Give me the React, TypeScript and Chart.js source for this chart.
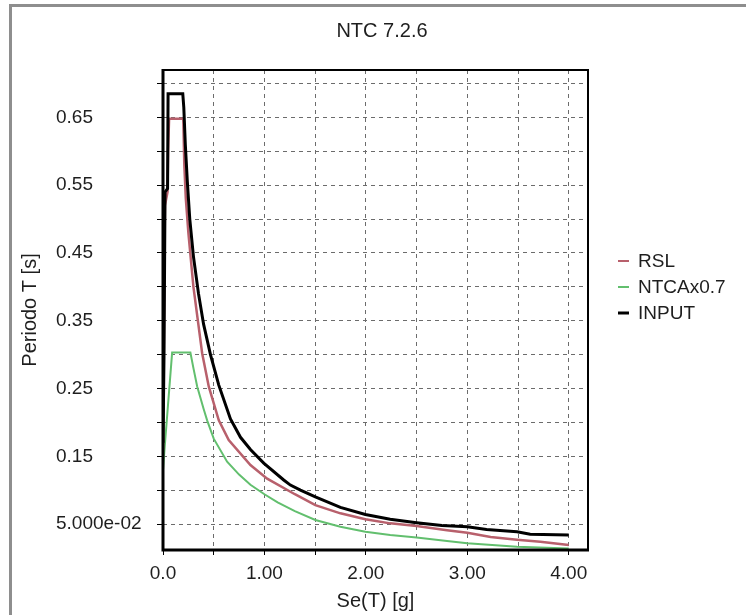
import React, { useEffect, useRef } from 'react';
import { Chart, registerables } from 'chart.js';

Chart.register(...registerables);

// ---- Data ----
const inputX = [0, 0.01, 0.02, 0.045, 0.05, 0.195, 0.205, 0.22, 0.24, 0.264, 0.3, 0.35, 0.4, 0.468, 0.55, 0.665, 0.764, 0.862, 0.993, 1.19, 1.256, 1.355, 1.502, 1.749, 1.995, 2.24, 2.5, 2.75, 3.0, 3.19, 3.49, 3.62, 4.0];
const inputY = [0.17, 0.3, 0.54, 0.545, 0.685, 0.685, 0.665, 0.61, 0.555, 0.5, 0.445, 0.39, 0.345, 0.3, 0.255, 0.205, 0.178, 0.16, 0.14, 0.115, 0.1075, 0.1, 0.09, 0.0746, 0.064, 0.057, 0.052, 0.048, 0.046, 0.042, 0.0386, 0.035, 0.0338];

const rslX = [0, 0.019, 0.045, 0.05, 0.06, 0.2, 0.21, 0.225, 0.25, 0.3, 0.386, 0.451, 0.55, 0.648, 0.862, 1.027, 1.3, 1.502, 1.749, 1.995, 2.24, 2.5, 2.8, 3.0, 3.23, 3.49, 3.72, 4.0];
const rslY = [0.16, 0.52, 0.54, 0.6, 0.648, 0.648, 0.58, 0.53, 0.48, 0.4, 0.302, 0.253, 0.203, 0.174, 0.137, 0.117, 0.094, 0.078, 0.0658, 0.057, 0.051, 0.047, 0.041, 0.037, 0.031, 0.027, 0.024, 0.019];

const ntcX = [0, 0.02, 0.09, 0.27, 0.3, 0.337, 0.4, 0.435, 0.5, 0.632, 0.75, 0.862, 1.0, 1.13, 1.3, 1.502, 1.749, 1.995, 2.24, 2.5, 2.8, 3.0, 3.49, 4.0];
const ntcY = [0.13, 0.17, 0.303, 0.303, 0.28, 0.253, 0.22, 0.203, 0.176, 0.142, 0.123, 0.108, 0.094, 0.082, 0.069, 0.056, 0.046, 0.0386, 0.034, 0.03, 0.025, 0.0215, 0.0165, 0.014];

const seriesLabels = ['RSL', 'NTCAx0.7', 'INPUT'];
const seriesColors = ['#b8606c', '#62bf6e', '#000000'];
const seriesWidths = [2.5, 2, 3];

const xTickValues = [0, 0.5, 1, 1.5, 2, 2.5, 3, 3.5, 4];
const xTickLabels = ['0.0', '', '1.00', '', '2.00', '', '3.00', '', '4.00'];
const yTickValues = [0.05, 0.1, 0.15, 0.2, 0.25, 0.3, 0.35, 0.4, 0.45, 0.5, 0.55, 0.6, 0.65, 0.7];
const yTickLabels = ['5.000e-02', '', '0.15', '', '0.25', '', '0.35', '', '0.45', '', '0.55', '', '0.65', ''];

const chartTitle = 'NTC 7.2.6';
const xTitle = 'Se(T) [g]';
const yTitle = 'Periodo T [s]';

const FONT = "'Liberation Sans', Arial, sans-serif";
const TEXT = '#1e1e1e';
const GRID = '#6c6c6c';

const toPts = (xs: number[], ys: number[]) => xs.map((x, i) => ({ x, y: ys[i] }));

const framePlugin = {
  id: 'frame',
  afterDatasetsDraw(chart: any) {
    const { ctx, chartArea: a } = chart;
    ctx.save();
    ctx.strokeStyle = '#000';
    ctx.lineWidth = 2;
    ctx.beginPath();
    ctx.moveTo(a.left, a.top);
    ctx.lineTo(a.right, a.top);
    ctx.lineTo(a.right, a.bottom);
    ctx.stroke();
    ctx.lineWidth = 3;
    ctx.beginPath();
    ctx.moveTo(a.left, a.top - 1);
    ctx.lineTo(a.left, a.bottom);
    ctx.lineTo(a.right + 1, a.bottom);
    ctx.stroke();
    ctx.restore();
  },
};

const titlePlugin = {
  id: 'customTitle',
  afterDraw(chart: any) {
    const { ctx } = chart;
    ctx.save();
    ctx.font = `20px ${FONT}`;
    ctx.fillStyle = TEXT;
    ctx.textAlign = 'center';
    ctx.textBaseline = 'middle';
    ctx.fillText(chartTitle, 382, 31);
    ctx.restore();
  },
};

const legendPlugin = {
  id: 'customLegend',
  afterDraw(chart: any) {
    const { ctx, chartArea: a } = chart;
    ctx.save();
    ctx.font = `19px ${FONT}`;
    ctx.textBaseline = 'middle';
    ctx.textAlign = 'left';
    chart.data.datasets.forEach((ds: any, i: number) => {
      const y = a.top + 191 + i * 26;
      ctx.strokeStyle = ds.borderColor;
      ctx.lineWidth = i === 2 ? 3 : 2;
      ctx.beginPath();
      ctx.moveTo(a.right + 30, y);
      ctx.lineTo(a.right + 41, y);
      ctx.stroke();
      ctx.fillStyle = TEXT;
      ctx.fillText(ds.label, a.right + 50, y + 1);
    });
    ctx.restore();
  },
};

export default function App() {
  const ref = useRef<HTMLCanvasElement | null>(null);

  useEffect(() => {
    if (!ref.current) return;
    const seriesData = [toPts(rslX, rslY), toPts(ntcX, ntcY), toPts(inputX, inputY)];
    const chart = new Chart(ref.current, {
      type: 'line',
      data: {
        datasets: seriesLabels.map((label, i) => ({
          label,
          data: seriesData[i],
          borderColor: seriesColors[i],
          backgroundColor: seriesColors[i],
          borderWidth: seriesWidths[i],
          pointRadius: 0,
          tension: 0,
          fill: false,
          order: i === 2 ? 0 : i + 1,
        })),
      },
      options: {
        animation: false,
        responsive: false,
        devicePixelRatio: 1,
        layout: { padding: { left: 56, top: 70, right: 158, bottom: 0 } },
        plugins: {
          legend: { display: false },
          title: { display: false },
          tooltip: { enabled: false },
        },
        scales: {
          x: {
            type: 'linear',
            min: 0,
            max: 4.19,
            afterFit: (s: any) => { s.height = 65; },
            afterBuildTicks: (s: any) => { s.ticks = xTickValues.map((v) => ({ value: v })); },
            grid: {
              color: GRID,
              lineWidth: 1,
              drawTicks: true,
              tickLength: 5,
              tickColor: '#000',
              tickWidth: 1,
            },
            border: { display: false, dash: [4, 4] },
            ticks: {
              autoSkip: false,
              maxRotation: 0,
              padding: 7,
              color: TEXT,
              font: { family: FONT, size: 19 },
              callback: (_v: any, i: number) => xTickLabels[i],
            },
            title: {
              display: true,
              text: xTitle,
              color: TEXT,
              font: { family: FONT, size: 20 },
              padding: { top: 0, bottom: 2 },
            },
          },
          y: {
            type: 'linear',
            min: 0.0117,
            max: 0.72,
            afterFit: (s: any) => { s.width = 107; },
            afterBuildTicks: (s: any) => { s.ticks = yTickValues.map((v) => ({ value: v })); },
            grid: {
              color: GRID,
              lineWidth: 1,
              drawTicks: true,
              tickLength: 6,
              tickColor: '#000',
              tickWidth: 1,
            },
            border: { display: false, dash: [4, 4] },
            ticks: {
              autoSkip: false,
              crossAlign: 'far',
              color: TEXT,
              font: { family: FONT, size: 19 },
              callback: (_v: any, i: number) => yTickLabels[i],
            },
            title: {
              display: true,
              text: yTitle,
              color: TEXT,
              font: { family: FONT, size: 20 },
              padding: { top: -38, bottom: 0 },
            },
          },
        },
      },
      plugins: [framePlugin, titlePlugin, legendPlugin],
    } as any);
    return () => chart.destroy();
  }, []);

  return (
    <div style={{ position: 'fixed', left: 0, top: 0, width: 746, height: 615, background: '#fff', overflow: 'hidden' }}>
      <div
        style={{
          position: 'absolute',
          left: 9,
          top: 4,
          width: 800,
          height: 700,
          borderLeft: '3px solid #8e8e8e',
          borderTop: '3px solid #8e8e8e',
        }}
      />
      <canvas ref={ref} width={746} height={615} style={{ position: 'absolute', left: 0, top: 0, width: 746, height: 615 }} />
    </div>
  );
}
